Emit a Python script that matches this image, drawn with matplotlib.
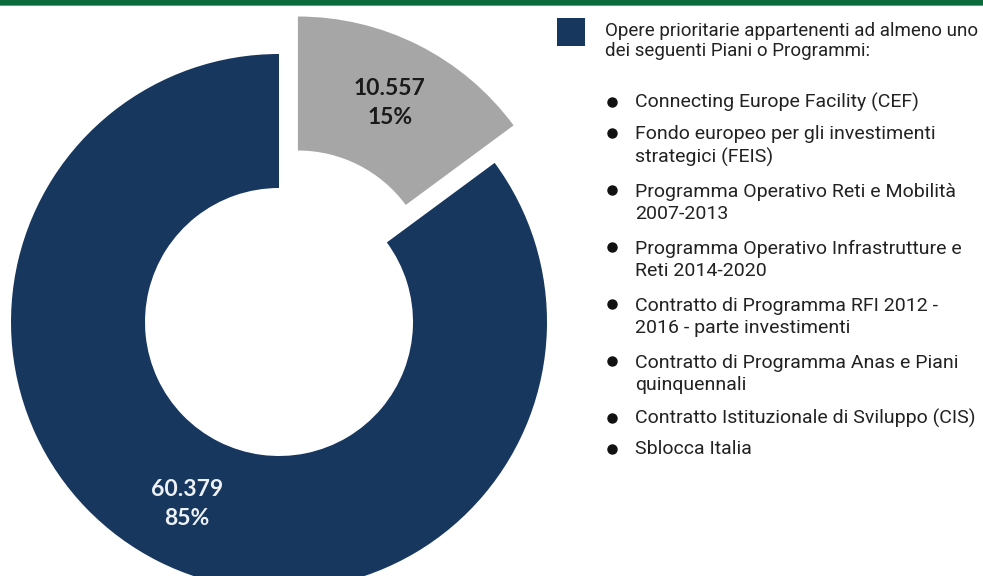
import matplotlib
matplotlib.use("Agg")
import matplotlib.pyplot as plt
from matplotlib.patches import Rectangle

# valori (migliaia) - opere prioritarie vs altre
values = [10557, 60379]
colors = ["#a6a6a6", "#17375e"]
label_colors = ["#1a1a1a", "#eef1f5"]

header = "Opere prioritarie appartenenti ad almeno uno\ndei seguenti Piani o Programmi:"
items = [
    "Connecting Europe Facility (CEF)",
    "Fondo europeo per gli investimenti\nstrategici (FEIS)",
    "Programma Operativo Reti e Mobilità\n2007-2013",
    "Programma Operativo Infrastrutture e\nReti 2014-2020",
    "Contratto di Programma RFI 2012 -\n2016 - parte investimenti",
    "Contratto di Programma Anas e Piani\nquinquennali",
    "Contratto Istituzionale di Sviluppo (CIS)",
    "Sblocca Italia",
]

W, H = 983, 576
total = sum(values)

fig = plt.figure(figsize=(W / 100, H / 100), dpi=100)
ax = fig.add_axes([0, 0, 1, 1])

def fy(y):
    # pixel dall'alto -> coordinate assi
    return H - y

def fmt(pct):
    v = int(round(pct * total / 100.0))
    return f"{v:,}".replace(",", ".") + "\n" + f"{pct:.0f}%"

# explode e width sono in unita' dati (pixel qui)
wedges, texts, autotexts = ax.pie(
    values, colors=colors, startangle=90, counterclock=False,
    explode=[42, 0], radius=268, center=(279, fy(322)),
    wedgeprops=dict(width=134, linewidth=0),
    autopct=fmt, pctdistance=0.76,
    textprops=dict(family="Lato", fontweight="bold", fontsize=16.5),
)
for t, c in zip(autotexts, label_colors):
    t.set_color(c)
    t.set_linespacing(1.45)

ax.set_xlim(0, W)
ax.set_ylim(0, H)
ax.set_aspect("equal")
ax.axis("off")

# barra verde in alto
ax.add_patch(Rectangle((0, fy(5)), W, 5, color="#0b6b3c", lw=0, zorder=5))
ax.add_patch(Rectangle((0, fy(6)), W, 1.2, color="#5aa07a", lw=0, zorder=5))

font = ["Roboto", "DejaVu Sans"]
txt_col = "#222222"

# legenda
ax.add_patch(Rectangle((557, fy(46)), 28, 28, color=colors[1], lw=0))
ax.text(605, fy(41), header, family=font, fontsize=13.5, color=txt_col,
        va="center", ha="left", linespacing=1.15)

y = 102
for it in items:
    ax.plot(611.5, fy(y), "o", color="#111111", markersize=6.5)
    n = it.count("\n") + 1
    ax.text(635, fy(y + (n - 1) * 13), it, family=font, fontsize=14,
            color=txt_col, va="center", ha="left", linespacing=1.3)
    y += 31 if n == 1 else 57

fig.savefig("out.png", dpi=100)
